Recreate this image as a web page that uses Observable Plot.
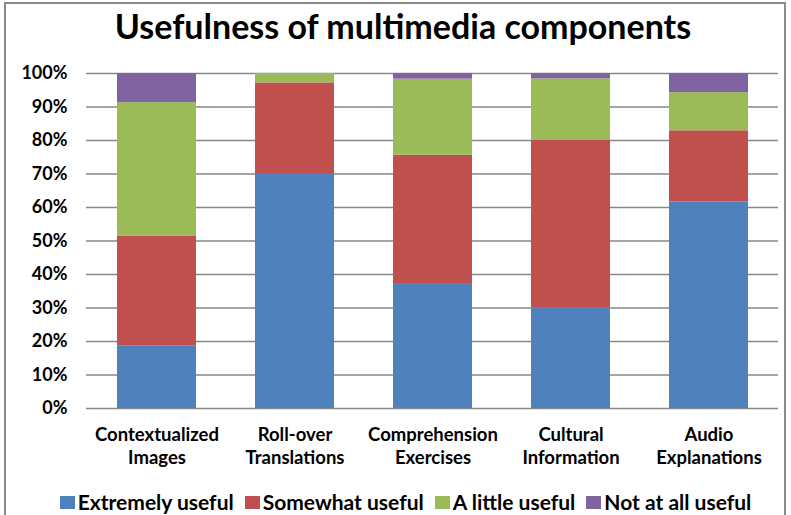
<!DOCTYPE html>
<html>
<head>
<meta charset="utf-8">
<script src="https://cdn.jsdelivr.net/npm/d3@7"></script>
<script src="https://cdn.jsdelivr.net/npm/@observablehq/plot@0.6"></script>
<style>
  html, body { margin: 0; padding: 0; background: #fff; overflow: hidden; }
  #wrap { position: relative; width: 791px; height: 515px; overflow: hidden; font-family: Lato, "DejaVu Sans", sans-serif; color: #000; }
  #frame { position: absolute; left: 4px; top: 2px; width: 782px; height: 530px; border: 2px solid #8a8a8a; box-sizing: border-box; }
  #title { position: absolute; left: 0; width: 806px; top: 5px; text-align: center; font-size: 34px; font-weight: bold; }
  #chart { position: absolute; left: 0; top: 60px; }
  #legend { position: absolute; left: 0; width: 791px; top: 492px; line-height: 20px; display: flex; justify-content: center; gap: 11px; font-size: 21px; font-weight: bold; padding-left: 20px; box-sizing: border-box; }
  .item { display: flex; align-items: center; gap: 3px; }
  .sw { width: 15px; height: 13px; display: inline-block; }
</style>
</head>
<body>
<div id="wrap">
  <div id="frame"></div>
  <div id="title">Usefulness of multimedia components</div>
  <div id="chart"></div>
  <div id="legend"></div>
</div>
<script>
const categories = ["Contextualized\nImages", "Roll-over\nTranslations", "Comprehension\nExercises", "Cultural\nInformation", "Audio\nExplanations"];
const series = ["Extremely useful", "Somewhat useful", "A little useful", "Not at all useful"];
const colors = ["#4F81BD", "#C0504D", "#9BBB59", "#8064A2"];
const extremely = [18.6, 69.9, 37.3, 30.0, 61.6];
const somewhat  = [32.9, 27.3, 38.3, 50.0, 21.3];
const little    = [39.8, 2.8, 22.7, 18.4, 11.4];
const notAtAll  = [8.7, 0.0, 1.7, 1.6, 5.7];
const yTicks = [0, 10, 20, 30, 40, 50, 60, 70, 80, 90, 100];

const valuesBySeries = [extremely, somewhat, little, notAtAll];
const data = [];
series.forEach((s, si) => {
  categories.forEach((c, ci) => {
    data.push({category: c, series: s, value: valuesBySeries[si][ci]});
  });
});

const chart = Plot.plot({
  width: 791,
  height: 415,
  marginLeft: 86,
  marginRight: 13,
  marginTop: 13,
  marginBottom: 67,
  style: { fontFamily: "Lato, 'DejaVu Sans', sans-serif", fontWeight: "bold", color: "#000", background: "transparent" },
  x: { domain: categories, paddingInner: 0.43, paddingOuter: 0.215, label: null },
  y: { domain: [0, 100], label: null },
  color: { domain: series, range: colors },
  marks: [
    Plot.gridY(yTicks, { stroke: "#878787", strokeOpacity: 1, strokeWidth: 1.3 }),
    Plot.barY(data, { x: "category", y: "value", fill: "series", order: series }),
    Plot.axisY(yTicks, { tickSize: 0, tickPadding: 19, tickFormat: d => d + "%", fontSize: 18, label: null }),
    Plot.axisX({ tickSize: 0, tickPadding: 16, fontSize: 18.5, lineHeight: 1.25, label: null })
  ]
});
document.getElementById("chart").appendChild(chart);

const legend = document.getElementById("legend");
series.forEach((s, i) => {
  const it = document.createElement("div");
  it.className = "item";
  const sw = document.createElement("span");
  sw.className = "sw";
  sw.style.background = colors[i];
  it.appendChild(sw);
  const t = document.createElement("span");
  t.textContent = s;
  it.appendChild(t);
  legend.appendChild(it);
});
</script>
</body>
</html>
